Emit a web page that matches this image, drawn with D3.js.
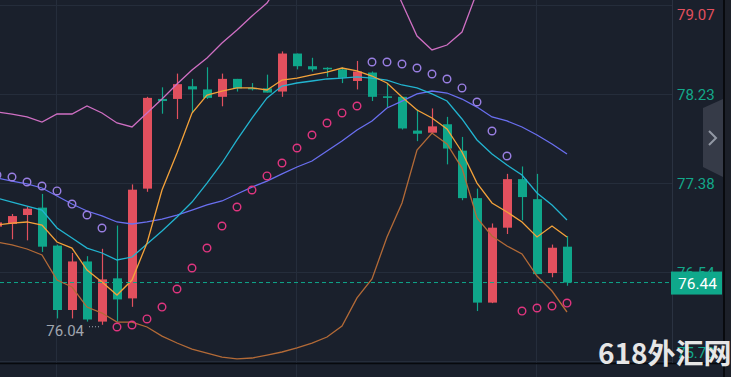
<!DOCTYPE html>
<html>
<head>
<meta charset="utf-8">
<script src="https://cdn.jsdelivr.net/npm/d3@7"></script>
<style>
html,body{margin:0;padding:0;background:#1a202c;overflow:hidden}
svg{display:block}
</style>
</head>
<body>
<div id="chart"></div>
<script>
// candles (oldest first, first one is cut by the left edge)
var opens  = [76.97,76.995,77.08,77.15,76.79,76.18,76.64,76.07,76.48,76.29,77.33,78.18,78.18,78.30,78.27,78.20,78.37,78.285,78.28,78.25,78.61,78.49,78.475,78.46,78.35,78.43,78.205,78.20,77.88,77.86,77.94,77.69,77.24,76.25,76.96,77.42,77.23,76.53,76.78];
var highs  = [77.05,77.09,77.16,77.28,76.80,76.72,76.69,76.76,76.98,77.37,78.20,78.29,78.42,78.37,78.48,78.42,78.37,78.33,78.41,78.63,78.61,78.57,78.48,78.48,78.54,78.44,78.33,78.20,78.08,78.09,78.01,77.82,77.33,77.00,77.47,77.54,77.47,76.80,76.88];
var lows   = [76.92,76.85,76.84,76.73,76.10,76.10,76.07,76.04,76.07,76.21,77.30,78.04,77.99,78.05,78.18,78.11,78.25,78.26,78.24,78.20,78.46,78.44,78.39,78.33,78.27,78.16,78.10,77.89,77.78,77.86,77.56,77.22,76.17,76.245,76.90,77.03,76.52,76.49,76.41];
var closes = [77.01,77.07,77.14,76.78,76.18,76.64,76.09,76.47,76.28,77.32,78.19,78.16,78.32,78.27,78.19,78.37,78.28,78.275,78.24,78.61,78.49,78.46,78.465,78.38,78.44,78.20,78.19,77.90,77.85,77.92,77.71,77.24,76.25,76.96,77.42,77.25,76.52,76.77,76.44];

// indicators
var bollUpper = [78.056,78.037,78.009,77.961,78.037,78.037,78.113,78.047,77.952,77.914,78.047,78.179,78.321,78.454,78.568,78.710,78.833,78.966,79.089,79.307,79.383,79.449,79.496,79.515,79.515,79.496,79.402,79.089,78.776,78.644,78.691,78.814,79.193,79.496,79.781,80.018,80.207,80.349,80.444];
var bollMid   = [77.431,77.402,77.374,77.336,77.260,77.184,77.118,77.071,77.014,76.995,77.014,77.042,77.080,77.127,77.175,77.213,77.279,77.345,77.402,77.469,77.535,77.592,77.687,77.781,77.886,77.971,78.094,78.160,78.227,78.255,78.236,78.179,78.103,78.009,77.971,77.914,77.838,77.753,77.658];
var bollLower = [76.824,76.796,76.758,76.701,76.464,76.398,76.208,76.151,76.066,76.066,76.019,75.933,75.867,75.810,75.772,75.734,75.716,75.725,75.753,75.782,75.820,75.867,75.924,76.028,76.294,76.474,76.872,77.194,77.696,77.857,77.753,77.525,77.052,76.881,76.786,76.711,76.502,76.360,76.161];
var ma5  = [76.985,77.004,77.014,76.985,76.824,76.767,76.559,76.445,76.322,76.464,76.815,77.317,77.668,78.047,78.217,78.255,78.284,78.284,78.265,78.359,78.378,78.407,78.435,78.473,78.445,78.397,78.331,78.198,78.075,77.999,77.895,77.677,77.383,77.194,77.109,77.014,76.872,76.976,76.872];
var ma10 = [77.241,77.203,77.165,77.127,76.957,76.862,76.767,76.720,76.654,76.682,76.805,76.928,77.061,77.203,77.383,77.573,77.791,77.999,78.189,78.302,78.331,78.350,78.369,78.378,78.388,78.378,78.359,78.312,78.284,78.227,78.160,77.990,77.791,77.658,77.554,77.459,77.289,77.175,77.033];
var sar  = [77.459,77.440,77.393,77.355,77.308,77.184,77.080,76.957,76.019,76.038,76.095,76.208,76.379,76.578,76.767,76.976,77.156,77.317,77.450,77.573,77.715,77.838,77.952,78.047,78.113,78.530,78.530,78.511,78.473,78.416,78.369,78.284,78.151,77.876,77.639,76.170,76.199,76.218,76.246];

var tickValues = [79.07, 78.2267, 77.3833, 76.54, 75.6967];
var tickLabels = ["79.07", "78.23", "77.38", "76.54", "75.70"];

var W = 731, H = 377, plotR = 672, plotB = 363;
var bg = "#1a202c", grid = "#252d3b";
var upCol = "#e2505e", downCol = "#0fa68a";

var x = d3.scaleLinear().domain([0, 38]).range([-3, 567]);
var y = d3.scaleLinear().domain([75.6967, 79.07]).range([361, 5]);

var svg = d3.select("#chart").append("svg")
    .attr("width", W).attr("height", H);

svg.append("rect").attr("width", W).attr("height", H).attr("fill", bg);

svg.append("clipPath").attr("id", "plot")
  .append("rect").attr("x", 0).attr("y", 0).attr("width", plotR).attr("height", plotB);

// grid
svg.selectAll(".hg").data(tickValues).enter().append("line")
    .attr("x1", 0).attr("x2", plotR)
    .attr("y1", function(d){ return Math.round(y(d)) + 0.5; })
    .attr("y2", function(d){ return Math.round(y(d)) + 0.5; })
    .attr("stroke", grid).attr("stroke-width", 1.2);
svg.selectAll(".vg").data([4, 20, 36]).enter().append("line")
    .attr("x1", function(d){ return Math.round(x(d)) - 0.5; })
    .attr("x2", function(d){ return Math.round(x(d)) - 0.5; })
    .attr("y1", 0).attr("y2", H)
    .attr("stroke", grid).attr("stroke-width", 1.2);

var plot = svg.append("g").attr("clip-path", "url(#plot)");

// candles
var idx = d3.range(opens.length);
var candle = plot.selectAll(".c").data(idx).enter().append("g");
candle.append("line")
    .attr("x1", function(i){ return Math.round(x(i)) + 0.5; })
    .attr("x2", function(i){ return Math.round(x(i)) + 0.5; })
    .attr("y1", function(i){ return y(highs[i]); })
    .attr("y2", function(i){ return y(lows[i]); })
    .attr("stroke", function(i){ return closes[i] >= opens[i] ? upCol : downCol; })
    .attr("stroke-width", 1.2);
candle.append("rect")
    .attr("x", function(i){ return Math.round(x(i)) - 4; })
    .attr("width", 9)
    .attr("y", function(i){ return y(Math.max(opens[i], closes[i])); })
    .attr("height", function(i){ return Math.max(1.5, Math.abs(y(opens[i]) - y(closes[i]))); })
    .attr("fill", function(i){ return closes[i] >= opens[i] ? upCol : downCol; });

// indicator lines
var line = d3.line().x(function(d, i){ return x(i); }).y(function(d){ return y(d); });
var series = [
  {v: bollUpper, c: "#cf6fc3"},
  {v: bollLower, c: "#b36a37"},
  {v: bollMid,   c: "#6a6ff0"},
  {v: ma10,      c: "#22b4d0"},
  {v: ma5,       c: "#f4a23a"}
];
series.forEach(function(s){
  plot.append("path").attr("d", line(s.v))
      .attr("fill", "none").attr("stroke", s.c).attr("stroke-width", 1.3);
});

// parabolic SAR
plot.selectAll(".sar").data(sar).enter().append("circle")
    .attr("cx", function(d, i){ return x(i); })
    .attr("cy", function(d){ return y(d); })
    .attr("r", 3.8)
    .attr("fill", "none")
    .attr("stroke", function(d, i){ return d > closes[i] ? "#9a7fe3" : "#e0357f"; })
    .attr("stroke-width", 1.4);

// current price line
var last = closes[closes.length - 1];
svg.append("line")
    .attr("x1", 0).attr("x2", plotR)
    .attr("y1", y(last)).attr("y2", y(last))
    .attr("stroke", downCol).attr("stroke-width", 1).attr("stroke-dasharray", "4,3");

// lowest low marker
var minI = d3.minIndex(lows);
var ly = y(lows[minI]);
svg.append("line")
    .attr("x1", x(minI) - 13).attr("x2", x(minI) - 1)
    .attr("y1", ly + 2).attr("y2", ly + 2)
    .attr("stroke", "#a0a6b0").attr("stroke-width", 1.2).attr("stroke-dasharray", "1,2");
svg.append("text")
    .attr("x", x(minI) - 18).attr("y", ly + 11)
    .attr("text-anchor", "end")
    .attr("fill", "#a0a6b0")
    .style("font", "15px Roboto, 'Noto Sans', sans-serif")
    .text(d3.format(".2f")(lows[minI]));

// bottom line
svg.append("line").attr("x1", 0).attr("x2", 723).attr("y1", plotB + 0.5).attr("y2", plotB + 0.5)
    .attr("stroke", "#07090d").attr("stroke-width", 1.5);

// axis separator
svg.append("line").attr("x1", plotR + 0.5).attr("x2", plotR + 0.5).attr("y1", 0).attr("y2", plotB)
    .attr("stroke", "#2a3241").attr("stroke-width", 1);

// right price axis
var axis = d3.axisRight(y).tickValues(tickValues).tickSize(0).tickPadding(0)
    .tickFormat(function(d, i){ return tickLabels[i]; });
var ax = svg.append("g").attr("transform", "translate(677,0)").call(axis);
ax.select(".domain").remove();
ax.selectAll("text")
    .attr("fill", function(d, i){ return i === 0 ? upCol : "#13a88a"; })
    .attr("dy", function(d, i){
      if (i === 0) return "14px";
      if (i === tickValues.length - 1) return "-4px";
      return "5.5px";
    })
    .style("font", "15px Roboto, 'Noto Sans', sans-serif");

// current price tag
svg.append("rect").attr("x", 671).attr("y", y(last) - 11).attr("width", 51).attr("height", 23)
    .attr("fill", "#0fa88b");
svg.append("text").attr("x", 678).attr("y", y(last) + 6)
    .attr("fill", "#ffffff")
    .style("font", "15.5px Roboto, 'Noto Sans', sans-serif")
    .text(d3.format(".2f")(last));

// right edge strip and tab
svg.append("rect").attr("x", 723).attr("y", 0).attr("width", 2).attr("height", H).attr("fill", "#080a0e");
svg.append("rect").attr("x", 725).attr("y", 0).attr("width", 6).attr("height", H).attr("fill", "#1c2029");
svg.append("polygon").attr("points", "703,108 723,99 723,177 703,167").attr("fill", "#363b48");
svg.append("polyline").attr("points", "709,131 716,138 709,145")
    .attr("fill", "none").attr("stroke", "#9298a4").attr("stroke-width", 2);

// watermark
svg.append("text").attr("x", 598).attr("y", 364)
    .attr("fill", "#e6e6e6")
    .style("font", "bold 28px 'Noto Sans CJK SC', sans-serif")
    .text("618外汇网");
</script>
</body>
</html>
